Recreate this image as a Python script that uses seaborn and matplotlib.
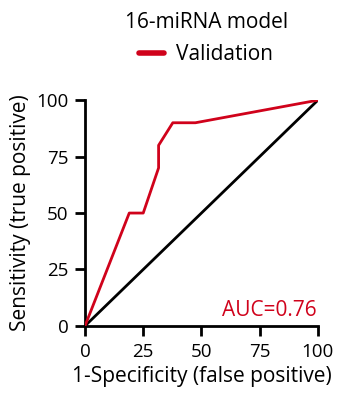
import matplotlib
matplotlib.use("Agg")
import matplotlib.pyplot as plt
import seaborn as sns
import pandas as pd

fpr = [0, 19, 25, 31.6, 31.6, 37.7, 47.4, 100]
tpr = [0, 50, 50, 70, 80, 90, 90, 100]
diag = [0, 100]
ticks = [0, 25, 50, 75, 100]
auc_text = "AUC=0.76"
title = "16-miRNA model"
series = "Validation"

sns.set_theme(style="ticks")
plt.rcParams['font.family'] = ['Open Sans', 'DejaVu Sans']
plt.rcParams['text.color'] = 'black'
plt.rcParams['axes.labelcolor'] = 'black'
plt.rcParams['xtick.color'] = 'black'
plt.rcParams['ytick.color'] = 'black'

red = "#d0021b"
fig = plt.figure(figsize=(3.47, 3.96), dpi=100)
ax = fig.add_axes([0.245, 0.177, 0.671, 0.570])

df = pd.DataFrame({"fpr": fpr, "tpr": tpr})
ax.plot(diag, diag, color="black", lw=2, zorder=2)
sns.lineplot(data=df, x="fpr", y="tpr", sort=False, estimator=None,
             color=red, lw=2, ax=ax, zorder=3, label=series)

ax.set_xlim(0, 100)
ax.set_ylim(0, 100)
ax.set_xticks(ticks)
ax.set_yticks(ticks)
ax.set_xticklabels([str(t) for t in ticks], fontsize=13.5)
ax.set_yticklabels([str(t) for t in ticks], fontsize=13.5)
ax.tick_params(axis='both', length=7, width=2, color='black', labelcolor='black', pad=5)
for s in ['left', 'bottom']:
    ax.spines[s].set_linewidth(2)
    ax.spines[s].set_color('black')
sns.despine(ax=ax)

ax.set_xlabel("1-Specificity (false positive)", fontsize=15, labelpad=4, color='black')
ax.set_ylabel("Sensitivity (true positive)", fontsize=15, labelpad=4, color='black')

ax.text(99.5, 2, auc_text, color=red, fontsize=15, ha='right', va='bottom')

leg = ax.legend(loc='lower center', bbox_to_anchor=(0.52, 1.108), frameon=False,
                fontsize=15, title=title, title_fontsize=15,
                handlelength=1.2, handletextpad=0.6, borderpad=0, labelspacing=0.55)
leg.get_title().set_color('black')
for t in leg.get_texts():
    t.set_color('black')
for line in leg.get_lines():
    line.set_linewidth(4)

fig.savefig("out.png", dpi=100)
